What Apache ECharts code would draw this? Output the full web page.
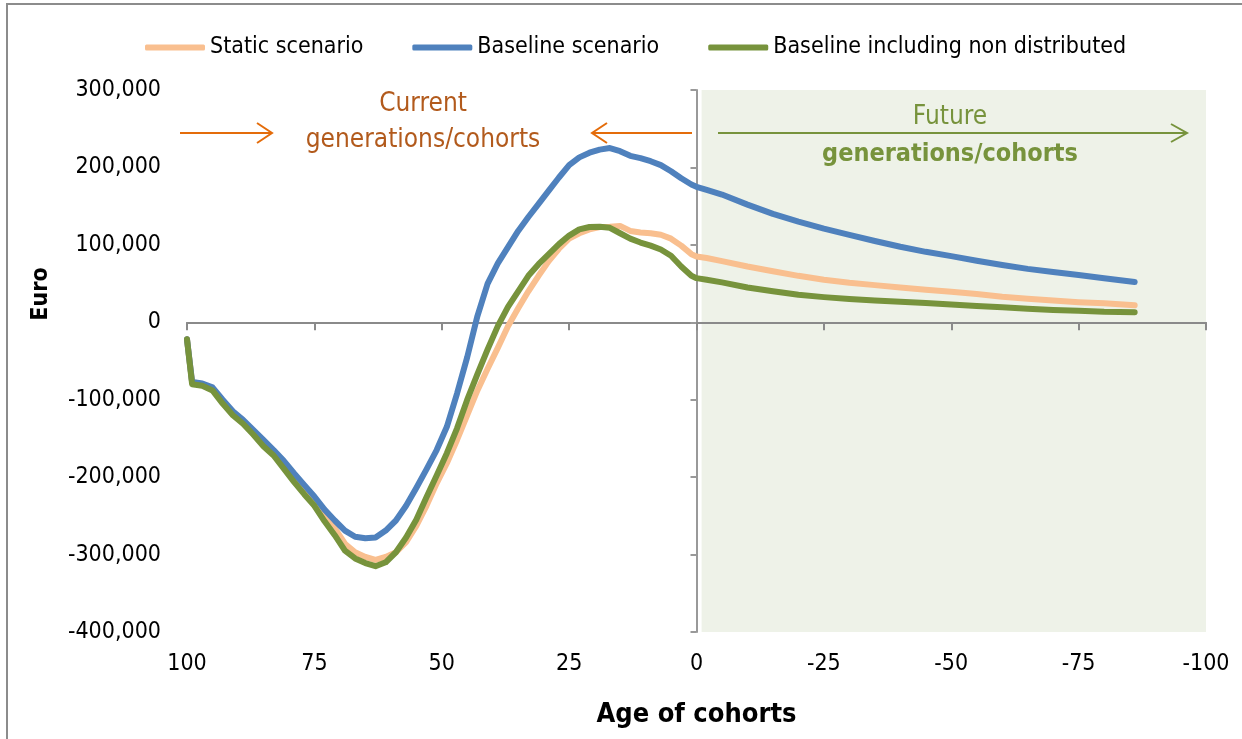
<!DOCTYPE html>
<html>
<head>
<meta charset="utf-8">
<script src="https://cdn.jsdelivr.net/npm/echarts@6.0.0/dist/echarts.min.js"></script>
<style>
html,body{margin:0;padding:0;background:#fff;}
#c{width:1242px;height:739px;}
</style>
</head>
<body>
<div id="c"></div>
<script>
// ---- data ----
const ages = [100, 99, 97, 95, 93, 91, 89, 87, 85, 83, 81, 79, 77, 75, 73, 71, 69, 67, 65, 63, 61, 59, 57, 55, 53, 51, 49, 47, 45, 43, 41, 39, 37, 35, 33, 31, 29, 27, 25, 23, 21, 19, 17, 15, 13, 11, 9, 7, 5, 3, 1, 0, -2, -5, -10, -15, -20, -25, -30, -35, -40, -45, -50, -55, -60, -65, -70, -75, -80, -86];

const staticScenario = [-22000, -77000, -80000, -86000, -103000, -118000, -130000, -143000, -157000, -170000, -186000, -202000, -217000, -232000, -250000, -266000, -286000, -297000, -303000, -307000, -303000, -297000, -284000, -263000, -237000, -208000, -182000, -152000, -120000, -88000, -60000, -33000, -5000, 18000, 40000, 60000, 79000, 95000, 108000, 115000, 120000, 123000, 123500, 124500, 118000, 116000, 115000, 113000, 108000, 99000, 88000, 85000, 83000, 79000, 72000, 66000, 60000, 55000, 51000, 48000, 45000, 42000, 39500, 36500, 33000, 30500, 28000, 26000, 24500, 22000];

const baselineScenario = [-22000, -77000, -79000, -84000, -100000, -115000, -126000, -139000, -152000, -165000, -179000, -195000, -210000, -225000, -242000, -256000, -269000, -277000, -279000, -278000, -269000, -256000, -237000, -214000, -190000, -165000, -135000, -92000, -45000, 8000, 50000, 76000, 97000, 118000, 136000, 153000, 170000, 187000, 203000, 213000, 219000, 223000, 225000, 221000, 215000, 212000, 208000, 203000, 195000, 186000, 178000, 175000, 171000, 165000, 152000, 140000, 130000, 121000, 113000, 105000, 97500, 91000, 85500, 79500, 74000, 69000, 65000, 61000, 57000, 52000];

const baselineNonDistributed = [-22000, -80000, -82000, -88000, -105000, -120000, -131000, -145000, -160000, -172000, -189000, -206000, -222000, -237000, -257000, -275000, -295000, -305000, -311000, -315000, -310000, -297000, -278000, -255000, -226000, -198000, -169000, -137000, -100000, -67000, -35000, -5000, 20000, 40000, 60000, 75000, 88000, 101000, 112000, 120000, 123000, 123500, 122000, 115000, 108000, 103000, 99000, 94000, 86000, 72000, 60000, 57000, 55000, 51500, 45000, 40000, 35500, 32500, 30000, 28000, 26500, 25000, 23000, 21000, 19500, 17500, 16000, 15000, 13500, 13000];

const seriesNames = ['Static scenario', 'Baseline scenario', 'Baseline including non distributed'];
const xRange = { min: -100, max: 100, interval: 25 };
const yRange = { min: -400000, max: 300000, interval: 100000 };
const futureZone = { from: -1, to: -100 };

// ---- styling ----
const FONT = '"Liberation Sans Narrow", "Arial Narrow", "DejaVu Sans Condensed", sans-serif';
const COLORS = ['#F9BF8F', '#4F81BD', '#77933C'];
const AXIS_GRAY = '#8a8a8a';

function pairs(vals) { return ages.map((a, i) => [a, vals[i]]); }
function fmt(v) { return v.toLocaleString('en-US'); }

const chart = echarts.init(document.getElementById('c'), null, { renderer: 'canvas' });

const lineSeries = (name, vals, color) => ({
  name, type: 'line', data: pairs(vals), xAxisIndex: 0, yAxisIndex: 0,
  symbol: 'none', showSymbol: false, z: 3,
  lineStyle: { width: 6, color, cap: 'round', join: 'round' },
  itemStyle: { color },
  emphasis: { disabled: true }, animation: false
});

const option = {
  animation: false,
  textStyle: { fontFamily: FONT },
  grid: { left: 187, right: 36, top: 90, bottom: 107, containLabel: false },
  legend: {
    left: 145, top: 36, padding: 0,
    itemWidth: 60, itemHeight: 6, itemGap: 49, icon: 'roundRect',
    textStyle: { fontSize: 23, color: '#000', fontFamily: FONT },
    data: seriesNames
  },
  xAxis: [
    {
      type: 'value', inverse: true, position: 'bottom', ...xRange,
      axisLine: { show: false, onZero: false }, axisTick: { show: false }, splitLine: { show: false },
      axisLabel: { fontSize: 23, color: '#000', margin: 21, fontFamily: FONT },
      name: 'Age of cohorts', nameLocation: 'middle', nameGap: 69,
      nameTextStyle: { fontSize: 27, fontWeight: 'bold', color: '#000', fontFamily: FONT }
    },
    {
      type: 'value', inverse: true, position: 'bottom', ...xRange, z: 2,
      axisLine: { show: true, onZero: true, lineStyle: { color: AXIS_GRAY, width: 2 } },
      axisTick: { show: true, length: 8, lineStyle: { color: AXIS_GRAY, width: 2 } },
      axisLabel: { show: false }, splitLine: { show: false }
    }
  ],
  yAxis: [
    {
      type: 'value', position: 'left', ...yRange,
      axisLine: { show: false, onZero: false }, axisTick: { show: false }, splitLine: { show: false },
      axisLabel: { fontSize: 23, color: '#000', margin: 26, fontFamily: FONT, formatter: fmt }
    },
    {
      type: 'value', position: 'left', ...yRange, z: 2,
      axisLine: { show: true, onZero: true, lineStyle: { color: '#999999', width: 2 } },
      axisTick: { show: true, length: 6, lineStyle: { color: '#999999', width: 2 } },
      axisLabel: { show: false }, splitLine: { show: false }
    }
  ],
  series: [
    {
      name: 'zone', type: 'line', data: [], xAxisIndex: 0, yAxisIndex: 0, z: 1,
      markArea: {
        silent: true, z: 1,
        itemStyle: { color: '#EEF2E8' },
        data: [[{ xAxis: futureZone.from, yAxis: yRange.max }, { xAxis: futureZone.to, yAxis: yRange.min }]]
      }
    },
    lineSeries(seriesNames[0], staticScenario, COLORS[0]),
    lineSeries(seriesNames[1], baselineScenario, COLORS[1]),
    lineSeries(seriesNames[2], baselineNonDistributed, COLORS[2])
  ],
  graphic: [
    { type: 'rect', z: 100, shape: { x: 7, y: 4, width: 1280, height: 800 }, style: { fill: null, stroke: '#8c8c8c', lineWidth: 2 }, silent: true },
    // "Euro" axis title
    { type: 'text', x: 41, y: 294, rotation: Math.PI / 2, z: 100,
      style: { text: 'Euro', font: 'bold 23px ' + FONT, fill: '#000', textAlign: 'center', textVerticalAlign: 'middle' } },
    // current generations arrows and text
    { type: 'line', z: 100, shape: { x1: 180, y1: 133, x2: 271, y2: 133 }, style: { stroke: '#E46C0A', lineWidth: 2 } },
    { type: 'polyline', z: 100, shape: { points: [[257, 123], [272, 133], [257, 143]] }, style: { stroke: '#E46C0A', lineWidth: 2, fill: null } },
    { type: 'line', z: 100, shape: { x1: 593, y1: 133, x2: 692, y2: 133 }, style: { stroke: '#E46C0A', lineWidth: 2 } },
    { type: 'polyline', z: 100, shape: { points: [[607, 123], [592, 133], [607, 143]] }, style: { stroke: '#E46C0A', lineWidth: 2, fill: null } },
    { type: 'text', x: 423, y: 104, z: 100,
      style: { text: 'Current', font: '26px ' + FONT, fill: '#B25A1C', textAlign: 'center', textVerticalAlign: 'middle' } },
    { type: 'text', x: 423, y: 140, z: 100,
      style: { text: 'generations/cohorts', font: '26px ' + FONT, fill: '#B25A1C', textAlign: 'center', textVerticalAlign: 'middle' } },
    // future generations arrow and text
    { type: 'line', z: 100, shape: { x1: 718, y1: 133, x2: 1186, y2: 133 }, style: { stroke: '#77933C', lineWidth: 2 } },
    { type: 'polyline', z: 100, shape: { points: [[1171, 124], [1187, 133], [1171, 142]] }, style: { stroke: '#77933C', lineWidth: 2, fill: null } },
    { type: 'text', x: 950, y: 117, z: 100,
      style: { text: 'Future', font: '26px ' + FONT, fill: '#77933C', textAlign: 'center', textVerticalAlign: 'middle' } },
    { type: 'text', x: 950, y: 154, z: 100,
      style: { text: 'generations/cohorts', font: 'bold 25px ' + FONT, fill: '#77933C', textAlign: 'center', textVerticalAlign: 'middle' } }
  ]
};

chart.setOption(option);
</script>
</body>
</html>
